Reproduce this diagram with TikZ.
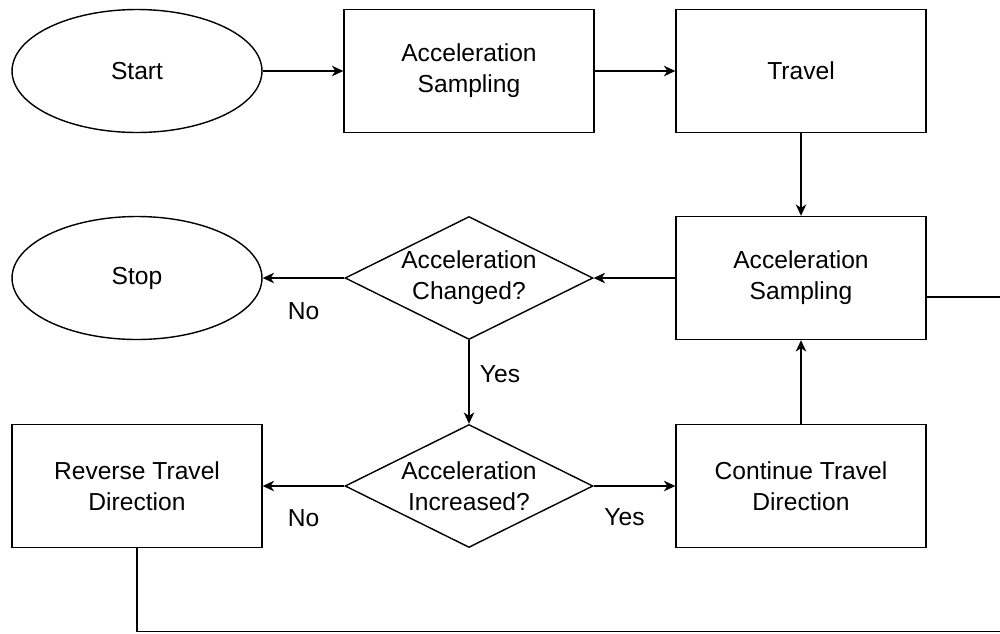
\documentclass[tikz,border=0pt]{standalone}
\usepackage{fontspec}
\setmainfont{Liberation Sans}
\usetikzlibrary{shapes.geometric,arrows.meta}

\begin{document}
\begin{tikzpicture}[x=0.02cm,y=0.02cm,line width=0.8pt,
  font=\fontsize{14}{17.5}\selectfont,
  >={Stealth[length=6.5pt,width=6pt,inset=2pt]},
  terminal/.style={draw,ellipse,minimum width=5cm,minimum height=2.46cm,inner sep=0pt},
  process/.style={draw,rectangle,minimum width=5cm,minimum height=2.46cm,align=center,inner sep=0pt},
  decision/.style={draw,diamond,aspect=2,minimum width=4.96cm,minimum height=2.46cm,align=center,inner sep=0pt},
  edgelabel/.style={inner sep=0pt}]
\useasboundingbox (0,0) rectangle (1000,-633);
\node [terminal] (start) at (137,-71) {Start};
\node [process] (sample1) at (469,-71) {Acceleration\\Sampling};
\node [process] (travel) at (801,-71) {Travel};
\node [process] (sample2) at (801,-278) {Acceleration\\Sampling};
\node [decision] (changed) at (469,-278) {Acceleration\\Changed?};
\node [terminal] (stop) at (137,-278) {Stop};
\node [decision] (increased) at (469,-486) {Acceleration\\Increased?};
\node [process] (reverse) at (137,-486) {Reverse Travel\\Direction};
\node [process] (continue) at (801,-486) {Continue Travel\\Direction};
\coordinate (corner) at (1010,-631.5);
\draw [->] (start) -- (sample1);
\draw [->] (sample1) -- (travel);
\draw [->] (travel) -- (sample2);
\draw [->] (sample2) -- (changed);
\draw [->] (changed) -- node [edgelabel,midway,yshift=-0.66cm] {No} (stop);
\draw [->] (changed) -- node [edgelabel,midway,xshift=0.62cm,yshift=0.15cm] {Yes} (increased);
\draw [->] (increased) -- node [edgelabel,midway,yshift=-0.64cm] {No} (reverse);
\draw [->] (increased) -- node [edgelabel,midway,xshift=-0.2cm,yshift=-0.62cm] {Yes} (continue);
\draw [->] (continue) -- (sample2);
\draw (reverse.south) |- (corner) |- ([yshift=-0.38cm]sample2.east);
\end{tikzpicture}
\end{document}
